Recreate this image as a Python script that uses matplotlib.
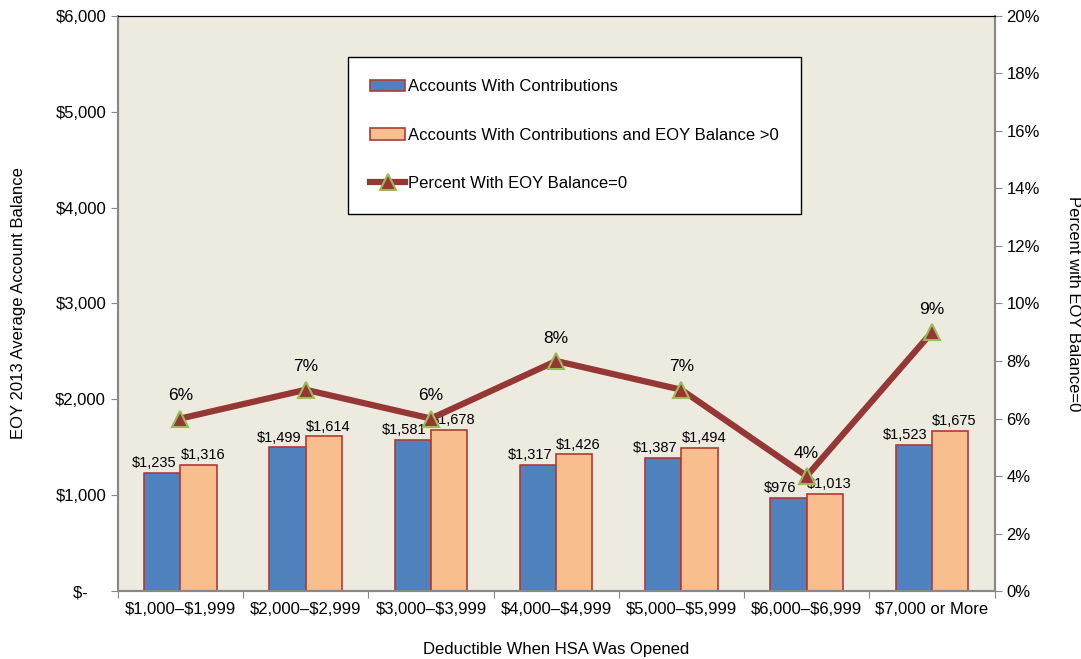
import matplotlib
matplotlib.use("Agg")
import numpy as np
from matplotlib import pyplot as plt
from matplotlib.ticker import FuncFormatter

categories = ["$1,000\u2013$1,999", "$2,000\u2013$2,999", "$3,000\u2013$3,999", "$4,000\u2013$4,999",
              "$5,000\u2013$5,999", "$6,000\u2013$6,999", "$7,000 or More"]
with_contrib = [1235, 1499, 1581, 1317, 1387, 976, 1523]
with_contrib_pos = [1316, 1614, 1678, 1426, 1494, 1013, 1675]
pct_zero = [6, 7, 6, 8, 7, 4, 9]

plt.rcParams['font.family'] = ['Liberation Sans', 'DejaVu Sans']
plt.rcParams['text.parse_math'] = False

fig = plt.figure(figsize=(10.81, 6.59), dpi=100, facecolor='white')
ax = fig.add_axes([0.109, 0.103, 0.811, 0.873])
ax.set_facecolor('#EDEBE0')

x = np.arange(len(categories))
w = 0.29
b1 = ax.bar(x - w / 2, with_contrib, w, color='#4F81BD', edgecolor='#B03A36', lw=1.2,
            label='Accounts With Contributions', zorder=2)
b2 = ax.bar(x + w / 2, with_contrib_pos, w, color='#F9BE8E', edgecolor='#B03A36', lw=1.2,
            label='Accounts With Contributions and EOY Balance >0', zorder=2)

for xi, v in zip(x, with_contrib):
    ax.annotate("${:,}".format(v), (xi - w / 2, v), xytext=(-6, 2), textcoords='offset points',
                ha='center', va='bottom', fontsize=10.5)
for xi, v in zip(x, with_contrib_pos):
    ax.annotate("${:,}".format(v), (xi + w / 2, v), xytext=(3, 2), textcoords='offset points',
                ha='center', va='bottom', fontsize=10.5)

ax.set_xlim(-0.5, len(categories) - 0.5)
ax.set_ylim(0, 6000)
ax.set_yticks(range(0, 6001, 1000))
ax.yaxis.set_major_formatter(FuncFormatter(lambda v, p: "$-    " if v == 0 else "${:,.0f}".format(v)))
ax.set_xticks(np.arange(len(categories) + 1) - 0.5, minor=False)
ax.set_xticklabels([])
ax.set_xticks(x, minor=True)
ax.set_xticklabels(categories, minor=True, fontsize=12)
ax.tick_params(axis='x', which='minor', length=0, pad=8)
ax.tick_params(axis='x', which='major', length=5, color='#888888')
ax.tick_params(axis='y', length=5, color='#888888', labelsize=12)
ax.set_xlabel("Deductible When HSA Was Opened", fontsize=12, labelpad=18)
ax.set_ylabel("EOY 2013 Average Account Balance", fontsize=12, labelpad=21)
for s in ['left', 'bottom', 'right']:
    ax.spines[s].set_color('#888888')
    ax.spines[s].set_linewidth(1.5)
ax.spines['top'].set_color('black')

ax2 = ax.twinx()
ln, = ax2.plot(x, pct_zero, color='#953735', lw=4.5, marker='^', markersize=12,
               markerfacecolor='#953735', markeredgecolor='#9BBB59', markeredgewidth=1.5,
               label='Percent With EOY Balance=0', zorder=3)
for xi, v in zip(x, pct_zero):
    ax2.annotate("{}%".format(v), (xi, v), xytext=(0, 11), textcoords='offset points',
                 ha='center', va='bottom', fontsize=12.5)
ax2.set_ylim(0, 20)
ax2.set_yticks(range(0, 21, 2))
ax2.yaxis.set_major_formatter(FuncFormatter(lambda v, p: "{:.0f}%".format(v)))
ax2.tick_params(axis='y', length=5, color='#888888', labelsize=12)
ax2.set_ylabel("Percent with EOY Balance=0", fontsize=12, rotation=270, labelpad=30)
for s in ['left', 'bottom', 'right']:
    ax2.spines[s].set_color('#888888')
    ax2.spines[s].set_linewidth(1.5)
ax2.spines['top'].set_color('black')

leg = ax2.legend(handles=[b1, b2, ln], loc='upper left', bbox_to_anchor=(0.262, 0.9285),
                 fontsize=12, frameon=True, fancybox=False, labelspacing=2.0,
                 borderpad=1.35, handlelength=2.1, handletextpad=0.15, borderaxespad=0)
leg.get_frame().set_edgecolor('black')
leg.get_frame().set_linewidth(1.0)
leg.get_frame().set_alpha(1)

fig.savefig("out.png", dpi=100)
